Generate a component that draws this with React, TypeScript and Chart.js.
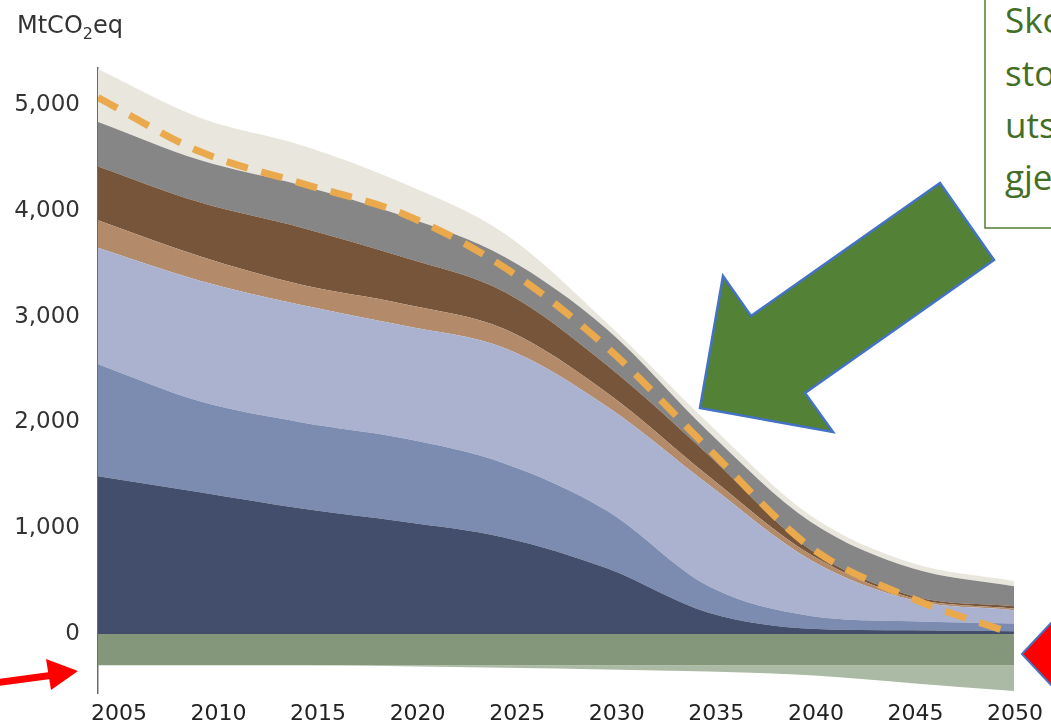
import React, { useEffect, useRef } from "react";
import { Chart, registerables } from "chart.js";

Chart.register(...registerables);

// ---- data (MtCO2eq) ----
const years = [2005, 2010, 2015, 2020, 2025, 2030, 2035, 2040, 2045, 2050];
const tickYears = [2005, 2010, 2015, 2020, 2025, 2030, 2035, 2040, 2045, 2050];
const yTickValues = [0, 1000, 2000, 3000, 4000, 5000];

// negative (sinks)
const sinkBase = [-295, -295, -295, -295, -295, -295, -295, -295, -295, -295];
const sinkExtra = [0, 0, 0, -10, -25, -40, -60, -95, -170, -245];

// positive stacked layers (bottom to top)
const layerNavy = [1490, 1340, 1185, 1060, 910, 620, 200, 50, 35, 25];
const layerMidBlue = [1060, 860, 815, 790, 700, 545, 250, 120, 85, 75];
const layerLavender = [1100, 1140, 1110, 1065, 1090, 985, 960, 530, 200, 125];
const layerTan = [260, 230, 190, 205, 180, 130, 80, 50, 20, 15];
const layerBrown = [510, 510, 540, 440, 350, 260, 200, 45, 20, 22];
const layerGray = [420, 400, 400, 390, 330, 340, 220, 265, 260, 188];
const layerBeige = [500, 400, 380, 310, 220, 60, 80, 60, 50, 50];

// dashed target path
const targetPath = [5070, 4560, 4260, 3970, 3460, 2710, 1750, 820, 335, 0];

const FONT = "'DejaVu Sans', Verdana, sans-serif";

function area(data: number[], color: string, fill: string | number) {
  return {
    type: "line" as const,
    data,
    backgroundColor: color,
    borderColor: "rgba(0,0,0,0)",
    borderWidth: 0,
    pointRadius: 0,
    fill,
    stack: "main",
    order: 1,
    cubicInterpolationMode: "monotone" as const,
    xAxisID: "x",
    yAxisID: "y",
  };
}

export default function App() {
  const canvasRef = useRef<HTMLCanvasElement | null>(null);

  useEffect(() => {
    document.body.style.margin = "0";
    const canvas = canvasRef.current;
    if (!canvas) return;
    const chart = new Chart(canvas, {
      type: "line",
      data: {
        labels: years,
        datasets: [
          area(sinkBase, "#84977b", "origin"),
          area(sinkExtra, "#abbaa4", "-1"),
          area(layerNavy, "#434d6c", "origin"),
          area(layerMidBlue, "#7c8bb0", "-1"),
          area(layerLavender, "#aab2cf", "-1"),
          area(layerTan, "#b38b6b", "-1"),
          area(layerBrown, "#76553a", "-1"),
          area(layerGray, "#868686", "-1"),
          area(layerBeige, "#e9e6dd", "-1"),
          {
            type: "line" as const,
            data: targetPath,
            borderColor: "#e9a94c",
            borderWidth: 7,
            borderDash: [22, 14],
            pointRadius: 0,
            fill: false,
            stack: "target",
            order: 0,
            cubicInterpolationMode: "monotone" as const,
            xAxisID: "x",
            yAxisID: "y",
          },
        ] as any,
      },
      options: {
        animation: false,
        responsive: true,
        maintainAspectRatio: false,
        layout: { padding: { top: 68, right: 34, left: 0, bottom: 0 } },
        plugins: {
          legend: { display: false },
          tooltip: { enabled: false },
        },
        scales: {
          x: {
            type: "linear",
            min: 2005,
            max: 2050,
            display: false,
          },
          xl: {
            type: "linear",
            position: "bottom",
            min: 2003.95,
            max: 2049.95,
            grid: { display: false, drawTicks: false },
            border: { display: false },
            afterBuildTicks: (scale: any) => {
              scale.ticks = tickYears.map((v) => ({ value: v }));
            },
            afterFit: (scale: any) => {
              scale.height = 30;
            },
            ticks: {
              autoSkip: false,
              maxRotation: 0,
              padding: 8,
              color: "#222",
              font: { family: FONT, size: 22 },
              callback: (v: any) => String(v),
            },
          },
          y: {
            type: "linear",
            stacked: true,
            min: -560,
            max: 5350,
            grid: { display: false, drawTicks: false },
            border: { display: true, color: "#6b6b6b", width: 1.5 },
            afterBuildTicks: (scale: any) => {
              scale.ticks = yTickValues.map((v) => ({ value: v }));
            },
            afterFit: (scale: any) => {
              scale.width = 98;
            },
            ticks: {
              padding: 18,
              color: "#333",
              font: { family: FONT, size: 23 },
              callback: (v: any) => Number(v).toLocaleString("en-US"),
            },
          },
        },
      } as any,
    });
    return () => chart.destroy();
  }, []);

  return (
    <div
      style={{
        position: "relative",
        width: 1051,
        height: 725,
        overflow: "hidden",
        background: "#fff",
      }}
    >
      <canvas ref={canvasRef} />
      <div
        style={{
          position: "absolute",
          left: 17,
          top: 11,
          fontFamily: FONT,
          fontSize: 24,
          color: "#333",
          lineHeight: "28px",
        }}
      >
        MtCO<sub style={{ fontSize: 16, verticalAlign: "-6px" }}>2</sub>eq
      </div>
      <svg
        width={1051}
        height={725}
        style={{ position: "absolute", left: 0, top: 0, pointerEvents: "none" }}
      >
        <rect x={985} y={-5} width={120} height={233} fill="#fff" stroke="#527d34" strokeWidth={1.5} />
        <g fill="#426e26" fontFamily="'Open Sans', 'Noto Sans', sans-serif" fontSize={35}>
          <text x={1005} y={33}>Sko</text>
          <text x={1005} y={86}>sto</text>
          <text x={1005} y={138}>uts</text>
          <text x={1005} y={190}>gje</text>
        </g>
        <polygon
          points="700,408 723,276 751,316 940,183 994,260 805,393 833,432"
          fill="#538135"
          stroke="#4472c4"
          strokeWidth={2.5}
          strokeLinejoin="miter"
        />
        <line x1={-5} y1={683} x2={54} y2={675} stroke="#ff0000" strokeWidth={7} />
        <polygon points="46,659 78,671 51,690" fill="#ff0000" />
        <polygon points="1022,654 1080,592 1080,716" fill="#ff0000" stroke="#4472c4" strokeWidth={2} />
      </svg>
    </div>
  );
}
